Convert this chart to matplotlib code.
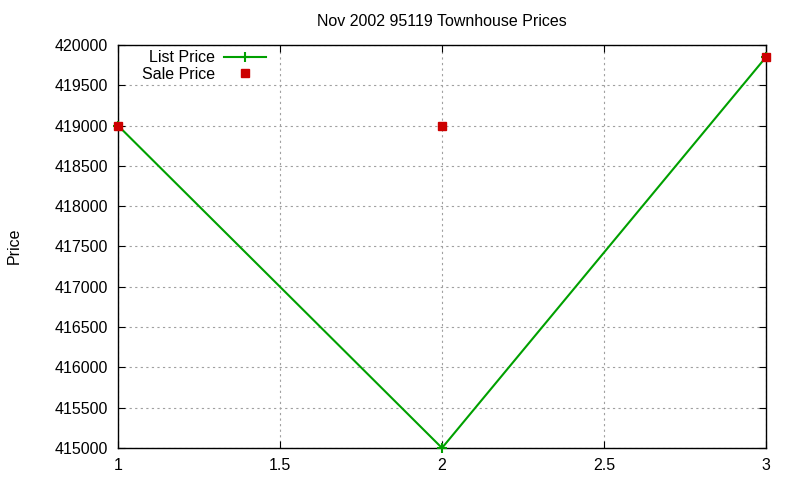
import matplotlib
matplotlib.use("Agg")
import matplotlib.pyplot as plt

plt.rcParams['font.family'] = ['Liberation Sans', 'DejaVu Sans']

x = [1, 2, 3]
list_price = [419000, 415000, 419850]
sale_price = [419000, 419000, 419850]
xticks = [1, 1.5, 2, 2.5, 3]
yticks = list(range(415000, 420001, 500))

FS = 11.5
fig = plt.figure(figsize=(8, 4.8), dpi=100)
ax = fig.add_axes([0.1475, 0.0667, 0.81, 0.8396])

ax.plot(x, list_price, color='#00a000', lw=1.5, marker='+', ms=7, mew=1.5,
        label='List Price', clip_on=False, zorder=3)
ax.plot(x, sale_price, ls='none', marker='s', ms=6, color='#cc0000',
        label='Sale Price', clip_on=False, zorder=4)

ax.set_xlim(1, 3)
ax.set_ylim(415000, 420000)
ax.set_xticks(xticks)
ax.set_xticklabels(['1', '1.5', '2', '2.5', '3'])
ax.set_yticks(yticks)
ax.set_yticklabels([str(v) for v in yticks])
ax.tick_params(direction='in', top=True, right=True, labelsize=FS, length=5, pad=7)
ax.grid(True, color='#a0a0a0', ls=(0, (2, 3)), lw=0.8)
for s in ax.spines.values():
    s.set_linewidth(1.0)

ax.set_title('Nov 2002 95119 Townhouse Prices', fontsize=FS, pad=14)
fig.text(0.008, 0.487, 'Price', rotation=90, fontsize=FS, va='center', ha='left')

leg = ax.legend(loc='upper right', bbox_to_anchor=(0.233, 0.995), frameon=False,
                markerfirst=False, fontsize=FS, handlelength=2.6,
                borderaxespad=0.0, borderpad=0.2, labelspacing=0.1, handletextpad=0.6)
for t in leg.get_texts():
    t.set_ha('right')
leg._legend_box.align = 'right'

fig.savefig('out.png', dpi=100)
